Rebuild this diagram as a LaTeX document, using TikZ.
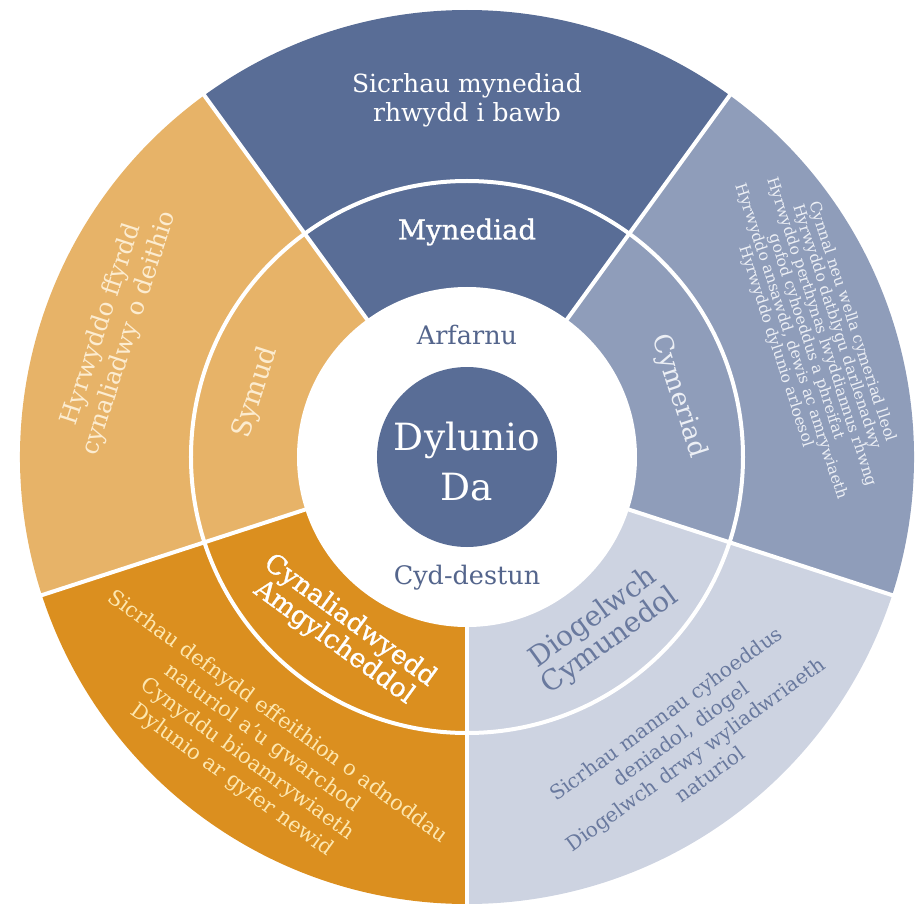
\documentclass[tikz,border=0pt]{standalone}
\usepackage{fontspec}
\setmainfont{DejaVu Serif}
\newfontfamily\semib[FakeBold=1]{DejaVu Serif}
\definecolor{mynC}{RGB}{89,109,150}
\definecolor{cymC}{RGB}{143,157,186}
\definecolor{dioC}{RGB}{205,211,225}
\definecolor{cynC}{RGB}{219,143,31}
\definecolor{symC}{RGB}{231,179,104}
\definecolor{blueText}{RGB}{84,101,140}
\definecolor{dioText}{RGB}{105,121,158}
\definecolor{creamText}{RGB}{252,236,208}
\definecolor{yellowText}{RGB}{253,231,175}
\definecolor{cymText}{RGB}{236,239,245}
\tikzset{
  txt/.style={inner sep=0pt, align=center},
  sep/.style={draw=white, line width=4pt},
}
\begin{document}
\begin{tikzpicture}[x=1pt,y=1pt]
\useasboundingbox (-467pt,-448pt) rectangle (456pt,457pt);
% sectors
\fill[mynC] (0,0) -- (54:447pt) arc[start angle=54, end angle=126, radius=447pt] -- cycle;
\fill[symC] (0,0) -- (126:447pt) arc[start angle=126, end angle=198, radius=447pt] -- cycle;
\fill[cynC] (0,0) -- (198:447pt) arc[start angle=198, end angle=270, radius=447pt] -- cycle;
\fill[dioC] (0,0) -- (270:447pt) arc[start angle=270, end angle=342, radius=447pt] -- cycle;
\fill[cymC] (0,0) -- (342:447pt) arc[start angle=342, end angle=414, radius=447pt] -- cycle;
% separators
\foreach \a in {54,126,198,270,342} \draw[sep] (\a:160pt) -- (\a:452pt);
\draw[sep] (0,0) circle[radius=276pt];
\fill[white] (0,0) circle[radius=170pt];
\fill[mynC] (0,0) circle[radius=90pt];
% centre
\node[txt, text=white, font=\fontsize{37.5}{50}\selectfont] (dylunio) at (0pt,-5pt) {Dylunio\\Da};
\node[txt, text=blueText, font=\fontsize{25.5}{28}\selectfont] (arfarnu) at (0pt,122pt) {Arfarnu};
\node[txt, text=blueText, font=\fontsize{25.5}{28}\selectfont] (cyd) at (0pt,-121pt) {Cyd-destun};
% inner ring labels
\node[txt, text=white, font=\semib\fontsize{27.5}{30}\selectfont] (myn) at (90:225pt) {Mynediad};
\node[txt, text=creamText, rotate=72, font=\fontsize{27}{30}\selectfont] (sym) at (163:221pt) {Symud};
\node[txt, text=cymText, rotate=-72, font=\fontsize{26}{30}\selectfont] (cym) at (16:220pt) {Cymeriad};
\node[txt, text=dioText, rotate=36, font=\fontsize{28}{27}\selectfont] (dio) at (-52:219pt) {Diogelwch\\Cymunedol};
\node[txt, text=white, rotate=-36, font=\semib\fontsize{26.5}{27}\selectfont] (cyn) at (-125.6:215pt) {Cynaliadwyedd\\Amgylcheddol};
% outer ring texts
\node[txt, text=white, font=\fontsize{25}{29}\selectfont] (mynO) at (90:357pt) {Sicrhau mynediad\\rhwydd i bawb};
\node[txt, text=creamText, rotate=72, font=\fontsize{24.5}{29}\selectfont] (symO) at (160:374pt) {Hyrwyddo ffyrdd\\cynaliadwy o deithio};
\node[txt, text=cymText, rotate=-72, font=\fontsize{15.5}{16}\selectfont] (cymO) at (19.5:368pt) {Cynnal neu wella cymeriad lleol\\Hyrwyddo datblygu darllenadwy\\Hyrwyddo perthynas lwyddiannus rhwng\\gofod cyhoeddus a phreifat\\Hyrwyddo ansawdd, dewis ac amrywiaeth\\Hyrwyddo dylunio arloesol};
\node[txt, text=dioText, rotate=36, font=\fontsize{20}{25}\selectfont] (dioO) at (-52.4:362pt) {Sicrhau mannau cyhoeddus\\deniadol, diogel\\Diogelwch drwy wyliadwriaeth\\naturiol};
\node[txt, text=yellowText, rotate=-36, font=\fontsize{21}{26}\selectfont] (cynO) at (-126:361pt) {Sicrhau defnydd effeithion o adnoddau\\naturiol a’u gwarchod\\Cynyddu bioamrywiaeth\\Dylunio ar gyfer newid};
\end{tikzpicture}
\end{document}
